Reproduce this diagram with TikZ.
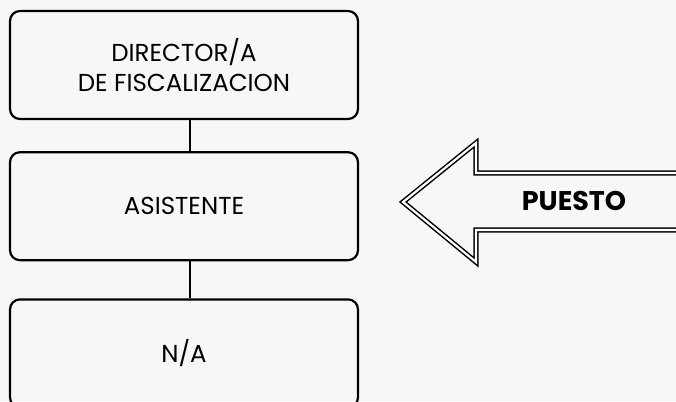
\documentclass[tikz,border=0pt]{standalone}
\usepackage{fontspec}
\setmainfont{Poppins}
\usepackage{tikz}
\usetikzlibrary{
  positioning,
  calc,
  backgrounds
}
\tikzset{
  orgbox/.style={
    rectangle, rounded corners=10pt, draw, line width=2.2pt,
    minimum width=348pt, minimum height=108pt,
    align=center, font=\fontsize{24.5}{30}\selectfont
  },
  link/.style={line width=1.8pt},
  hollowarrow/.style={
    draw, line width=1.5pt, double=white, double distance=2.2pt,
    line join=miter
  }
}

\begin{document}
\begin{tikzpicture}[x=1pt, y=-1pt, node distance=31pt]

\useasboundingbox (0,0) rectangle (676,401);
\fill[black!3] (0,0) rectangle (676,401);

% ── Org chart ───────────────────────────────────────────────────────────────
\node[orgbox] (director) at (184,65) {DIRECTOR/A\\DE FISCALIZACION};
\node[orgbox, below=31pt of director] (asistente) {ASISTENTE};
\node[orgbox, below=37pt of asistente] (na) {N/A};

\draw[link] ([xshift=6pt]director.south) -- ([xshift=6pt]asistente.north);
\draw[link] ([xshift=6pt]asistente.south) -- ([xshift=6pt]na.north);

% ── Pointer arrow ───────────────────────────────────────────────────────────
\coordinate (tip) at (403,202);
\draw[hollowarrow] ($(tip)+(300,-29)$) -- ($(tip)+(73,-29)$)
  -- ($(tip)+(73,-59)$) -- (tip) -- ($(tip)+(73,60)$)
  -- ($(tip)+(73,28)$) -- ($(tip)+(300,28)$);
\node[font=\fontsize{27}{30}\selectfont\bfseries] (puesto) at (574,201) {PUESTO};

\end{tikzpicture}
\end{document}
